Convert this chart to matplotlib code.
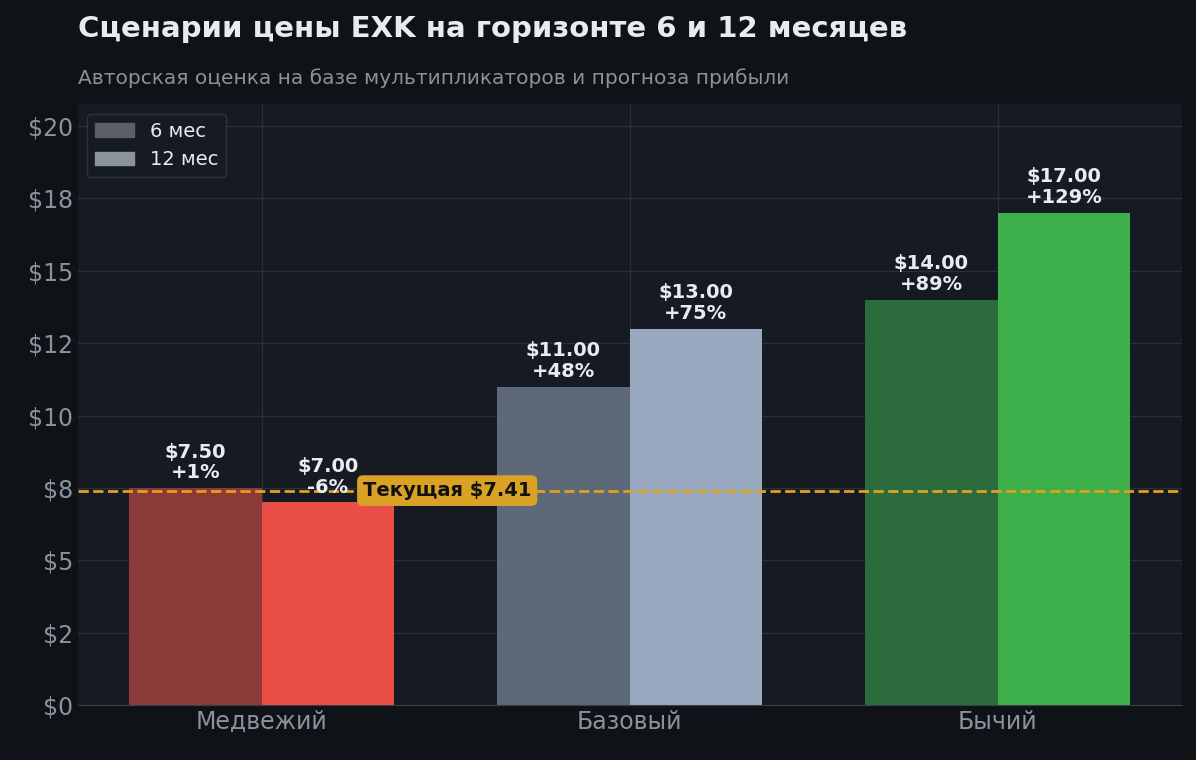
import matplotlib
matplotlib.use("Agg")
import matplotlib.pyplot as plt
import numpy as np
from matplotlib.ticker import FuncFormatter, MultipleLocator

categories = ["Медвежий", "Базовый", "Бычий"]
vals_6m = [7.50, 11.00, 14.00]
vals_12m = [7.00, 13.00, 17.00]
pct_6m = ["+1%", "+48%", "+89%"]
pct_12m = ["-6%", "+75%", "+129%"]
current = 7.41

c6 = ["#8b3a3a", "#5d6878", "#2c6b3c"]
c12 = ["#ea4f47", "#98a8bf", "#3daf4b"]

fig = plt.figure(figsize=(11.96, 7.6), dpi=100, facecolor="#0f1317")
ax = fig.add_axes([0.065, 0.072, 0.923, 0.791], facecolor="#161a22")
x = np.arange(len(categories))
w = 0.36
b1 = ax.bar(x - w/2, vals_6m, w, color=c6, zorder=2)
b2 = ax.bar(x + w/2, vals_12m, w, color=c12, zorder=2)
for xi, v, p in zip(x - w/2, vals_6m, pct_6m):
    ax.text(xi, v + 0.2, f"${v:.2f}\n{p}", ha="center", va="bottom", color="#e8ecf0",
            fontsize=14, fontweight="bold", linespacing=1.1, zorder=4)
for xi, v, p in zip(x + w/2, vals_12m, pct_12m):
    ax.text(xi, v + 0.2, f"${v:.2f}\n{p}", ha="center", va="bottom", color="#e8ecf0",
            fontsize=14, fontweight="bold", linespacing=1.1, zorder=4)
ax.axhline(current, color="#e0a020", ls="--", lw=2, zorder=3)
ax.text(0.504, current, f"Текущая ${current:.2f}", ha="center", va="center", fontsize=14,
        fontweight="bold", color="#111111", zorder=5,
        bbox=dict(boxstyle="round,pad=0.3", fc="#d9a224", ec="none"))
ax.set_xlim(-0.5, 2.5)
ax.set_ylim(0, 20.75)
ax.yaxis.set_major_locator(MultipleLocator(2.5))
ax.yaxis.set_major_formatter(FuncFormatter(lambda v, p: f"${v:.0f}"))
ax.set_xticks(x)
ax.set_xticklabels(categories)
ax.tick_params(colors="#8a929c", labelsize=17, length=0)
ax.grid(color="#2a2f38", lw=1, zorder=0)
for s in ax.spines.values():
    s.set_visible(False)
ax.spines["bottom"].set_visible(True)
ax.spines["bottom"].set_color("#3a3f48")
from matplotlib.patches import Patch
leg = ax.legend(handles=[Patch(color="#5a5e68", label="6 мес"), Patch(color="#8a939e", label="12 мес")],
                loc="upper left", fontsize=14, facecolor="#161a22", edgecolor="#2e333c",
                labelcolor="#e8ecf0", framealpha=1)
fig.text(0.065, 0.962, "Сценарии цены EXK на горизонте 6 и 12 месяцев", fontsize=21,
         fontweight="bold", color="#e8ecf0", va="center")
fig.text(0.065, 0.897, "Авторская оценка на базе мультипликаторов и прогноза прибыли",
         fontsize=14.5, color="#8a929c", va="center")
fig.savefig("out.png", dpi=100, facecolor=fig.get_facecolor())
